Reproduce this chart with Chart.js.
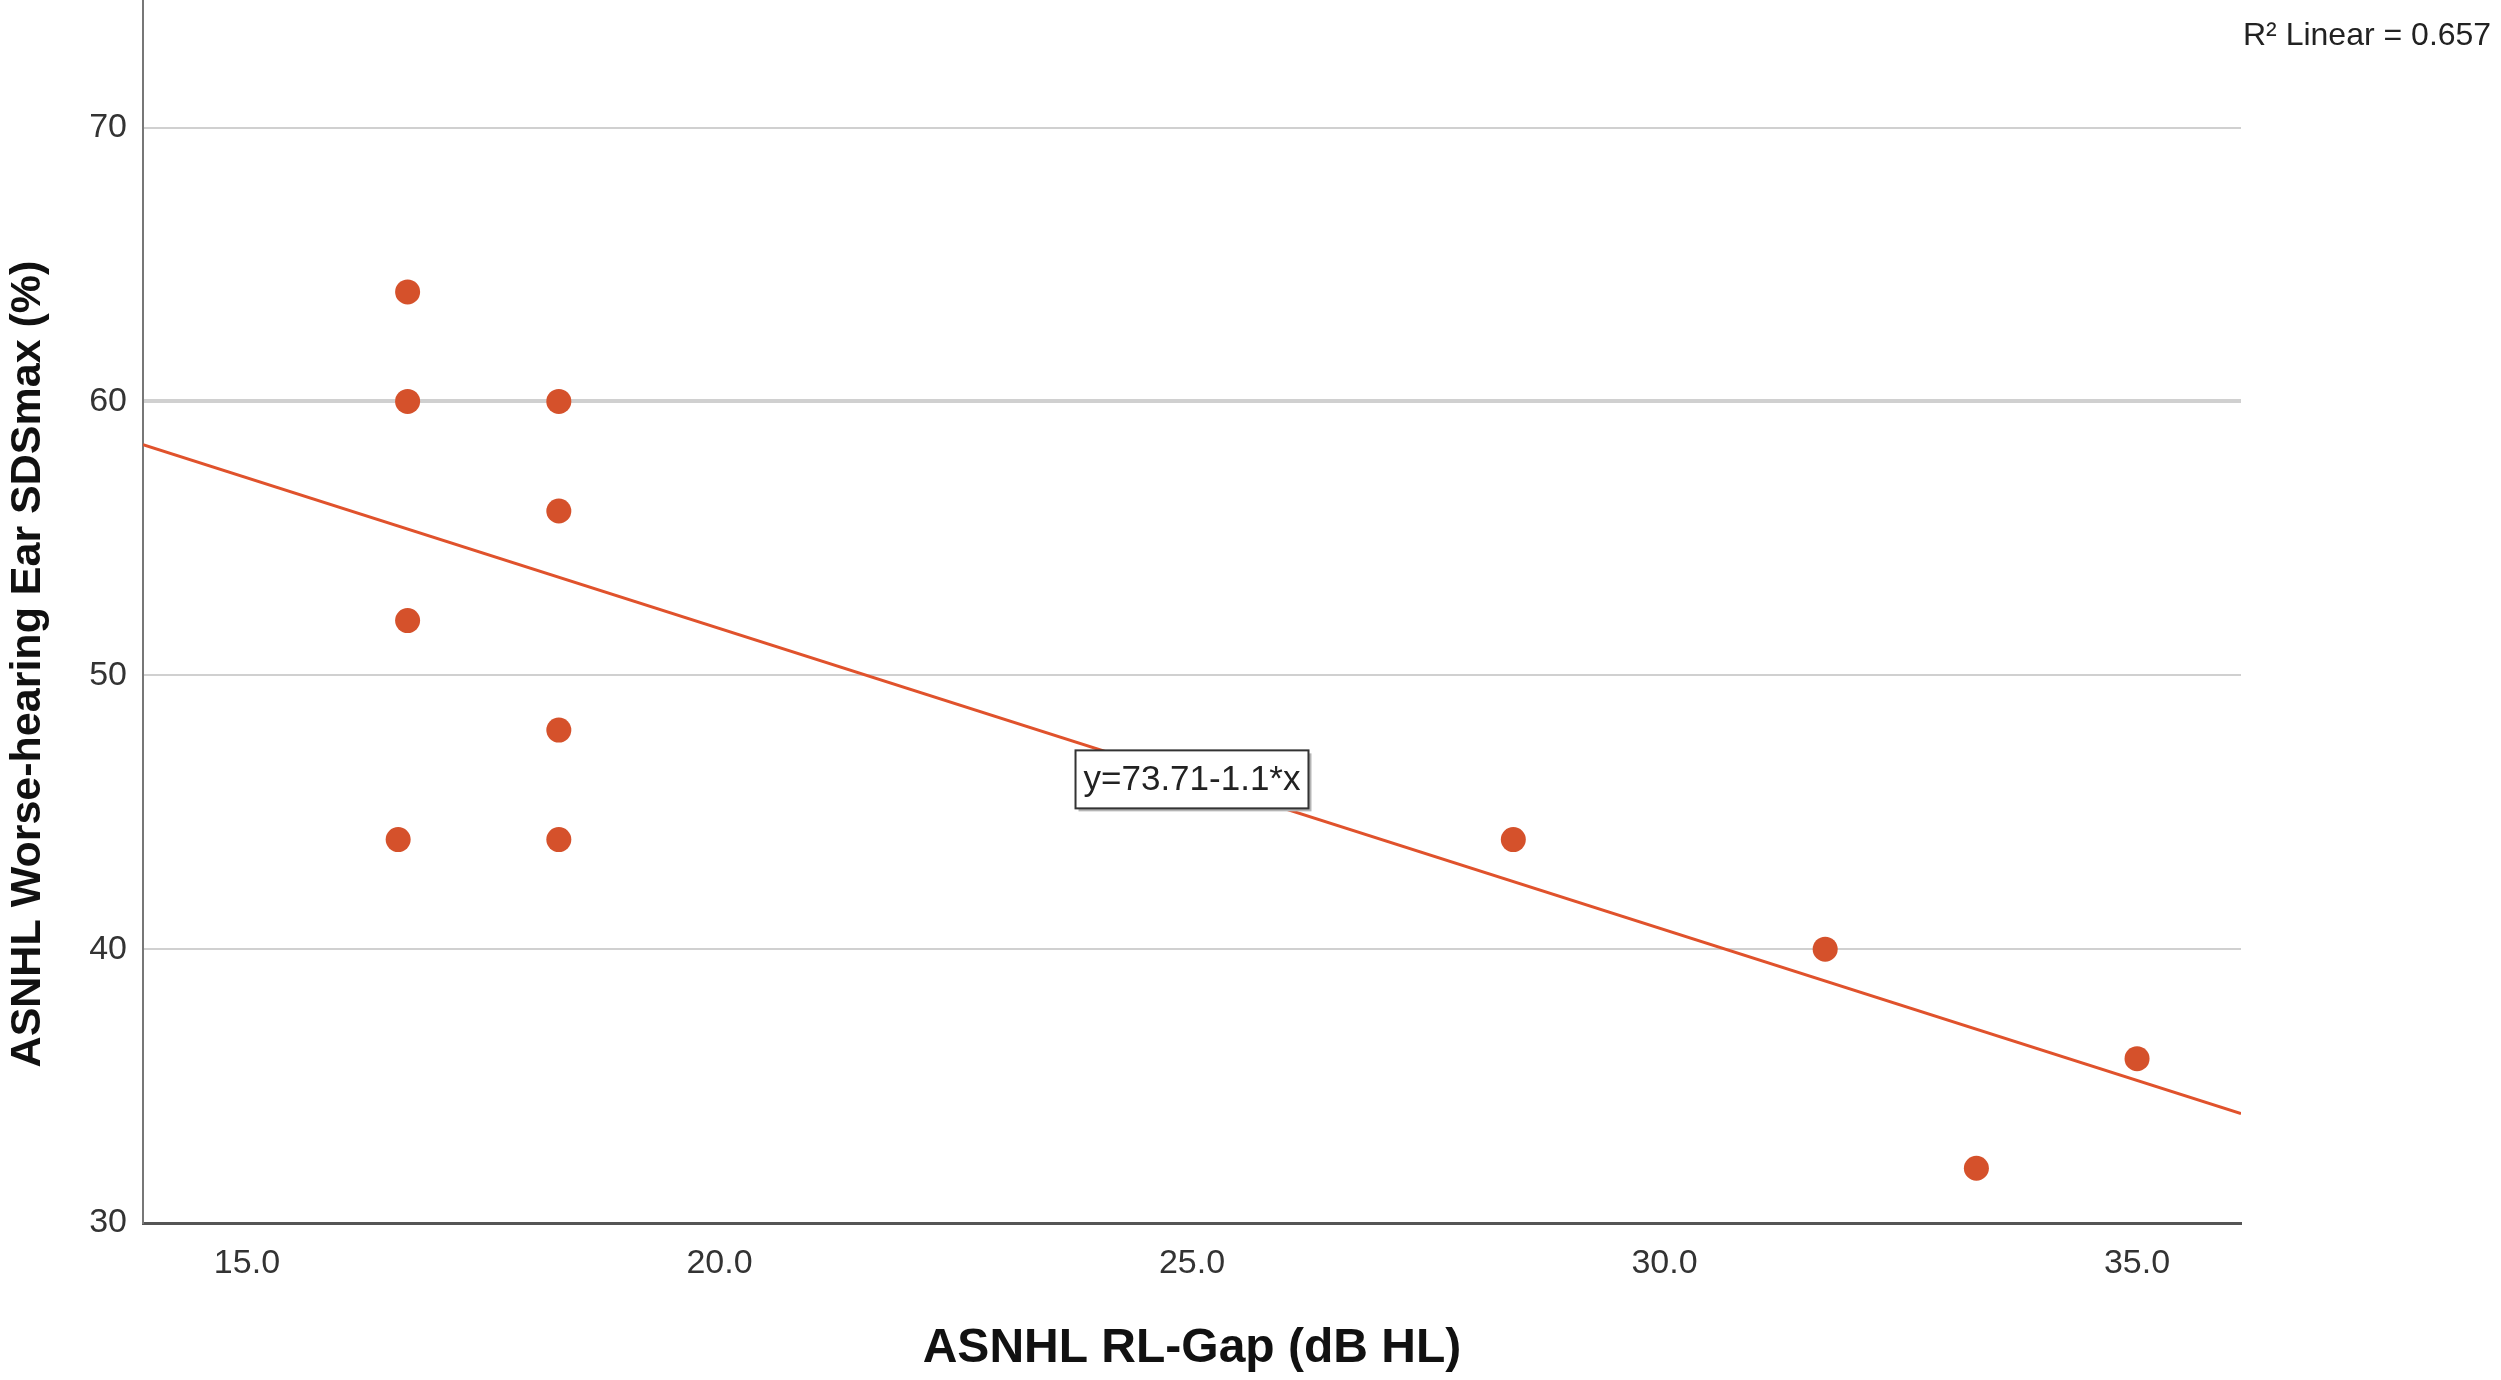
<!DOCTYPE html>
<html>
<head>
<meta charset="utf-8">
<script src="https://cdn.jsdelivr.net/npm/chart.js@4.4.0/dist/chart.umd.min.js"></script>
<style>
  html, body { margin: 0; padding: 0; background: #fff; }
  #wrap { width: 2501px; height: 1380px; position: relative; }
</style>
</head>
<body>
<div id="wrap"><canvas id="scatter"></canvas></div>
<script>
// values
const gapDb = [16.7, 16.7, 18.3, 18.3, 16.7, 18.3, 16.6, 18.3, 28.4, 31.7, 35.0, 33.3];
const sdsMax = [64, 60, 60, 56, 52, 48, 44, 44, 44, 40, 36, 32];

// fit line ends (left / right edge of plot)
const fitX = [13.9, 36.1];
const fitY = [58.42, 34.0];

const xTicks = [15, 20, 25, 30, 35];
const yTicks = [30, 40, 50, 60, 70];

const xTitle = "ASNHL RL-Gap (dB HL)";
const yTitle = "ASNHL Worse-hearing Ear SDSmax (%)";
const fitLabel = "y=73.71-1.1*x";
const fitLabelAt = { x: 25.0, y: 46.2 };
const r2Label = "R\u00B2 Linear = 0.657";

const dotColor = "#D5512B";
const fontFam = "'Liberation Sans', Arial, sans-serif";

document.addEventListener("DOMContentLoaded", () => {
  const points = gapDb.map((g, i) => ({ x: g, y: sdsMax[i] }));
  const fitPoints = fitX.map((g, i) => ({ x: g, y: fitY[i] }));

  // equation box, R2 note, and the y title (sits a bit low in the original)
  const notes = {
    id: "notes",
    afterDatasetsDraw(chart) {
      const ctx = chart.ctx;
      const px = chart.scales.x.getPixelForValue(fitLabelAt.x);
      const py = chart.scales.y.getPixelForValue(fitLabelAt.y);
      ctx.save();
      ctx.font = "35px " + fontFam;
      const w = ctx.measureText(fitLabel).width + 16;
      const h = 58;
      ctx.fillStyle = "#b5b5b5";
      ctx.fillRect(px - w / 2 + 3, py - h / 2 + 3, w, h);
      ctx.fillStyle = "#fff";
      ctx.fillRect(px - w / 2, py - h / 2, w, h);
      ctx.strokeStyle = "#333";
      ctx.lineWidth = 2;
      ctx.strokeRect(px - w / 2, py - h / 2, w, h);
      ctx.fillStyle = "#222";
      ctx.textAlign = "center";
      ctx.textBaseline = "middle";
      ctx.fillText(fitLabel, px, py + 1);
      ctx.restore();
    },
    afterDraw(chart) {
      const ctx = chart.ctx;
      ctx.save();
      ctx.font = "32px " + fontFam;
      ctx.fillStyle = "#222";
      ctx.textBaseline = "alphabetic";
      ctx.fillText(r2Label, chart.chartArea.right + 2, 45);
      ctx.restore();

      ctx.save();
      ctx.font = "bold 43px " + fontFam;
      ctx.fillStyle = "#111";
      ctx.textAlign = "center";
      ctx.textBaseline = "middle";
      ctx.translate(28, 664);
      ctx.rotate(-Math.PI / 2);
      ctx.fillText(yTitle, 0, 0);
      ctx.restore();
    }
  };

  new Chart(document.getElementById("scatter"), {
    type: "scatter",
    data: {
      datasets: [
        {
          label: "SDSmax",
          data: points,
          backgroundColor: dotColor,
          borderColor: dotColor,
          pointRadius: 12.5,
          pointBorderWidth: 0
        },
        {
          type: "line",
          label: "Linear",
          data: fitPoints,
          borderColor: "#E0522C",
          borderWidth: 3,
          pointRadius: 0,
          fill: false
        }
      ]
    },
    options: {
      responsive: true,
      maintainAspectRatio: false,
      animation: false,
      layout: { autoPadding: false, padding: { top: 0, right: 260, bottom: 0, left: 0 } },
      plugins: {
        legend: { display: false },
        tooltip: { enabled: false }
      },
      scales: {
        x: {
          type: "linear",
          min: fitX[0],
          max: fitX[1],
          afterBuildTicks: (s) => { s.ticks = xTicks.map(v => ({ value: v })); },
          afterFit: (s) => { s.height = 157; s.paddingLeft = 0; s.paddingRight = 0; },
          grid: { display: false, drawTicks: false },
          border: { display: true, color: "#555", width: 3 },
          ticks: {
            padding: 20,
            color: "#333",
            font: { family: fontFam, size: 34 },
            callback: (v) => v.toFixed(1)
          },
          title: {
            display: true,
            text: xTitle,
            color: "#111",
            padding: { top: 0, bottom: 2 },
            font: { family: fontFam, size: 48, weight: "bold" }
          }
        },
        y: {
          min: 30,
          max: 74.66,
          afterBuildTicks: (s) => { s.ticks = yTicks.map(v => ({ value: v })); },
          afterFit: (s) => { s.width = 143; s.paddingTop = 0; s.paddingBottom = 0; },
          grid: {
            drawTicks: false,
            color: "#d0d0d0",
            lineWidth: (c) => (c.tick && c.tick.value === 60 ? 4 : 2)
          },
          border: { display: true, color: "#777", width: 2 },
          ticks: {
            padding: 16,
            color: "#333",
            font: { family: fontFam, size: 34 }
          },
          title: { display: false }
        }
      }
    },
    plugins: [notes]
  });
});
</script>
</body>
</html>
